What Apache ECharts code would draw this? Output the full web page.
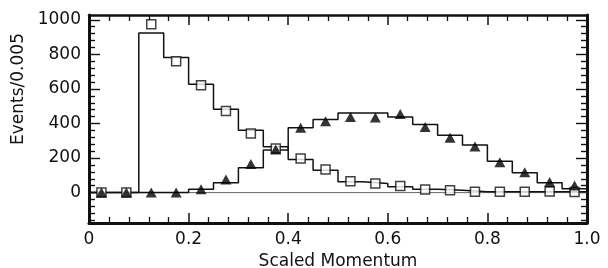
<!DOCTYPE html>
<html>
<head>
<meta charset="utf-8">
<script src="https://cdn.jsdelivr.net/npm/echarts@6/dist/echarts.min.js"></script>
<style>
  html, body { margin: 0; padding: 0; background: #fff; }
  #chart { width: 608px; height: 268px; }
</style>
</head>
<body>
<div id="chart"></div>
<script>
// bins of scaled momentum, width 0.05
const binWidth = 0.05
const binLow = [0.00, 0.05, 0.10, 0.15, 0.20, 0.25, 0.30, 0.35, 0.40, 0.45,
                0.50, 0.55, 0.60, 0.65, 0.70, 0.75, 0.80, 0.85, 0.90, 0.95]

// open squares (points + histogram)
const squarePoints = [0, 0, 974, 760, 621, 473, 342, 255, 197, 134,
                      66, 53, 38, 18, 14, 5, 5, 5, 6, 3]
const squareHist = [0, 0, 924, 782, 627, 483, 361, 265, 192, 130,
                    63, 53, 34, 20, 14, 5, 5, 5, 5, 5]

// filled triangles (points + histogram)
const trianglePoints = [0, 0, 0, 0, 20, 76, 165, 250, 375, 413,
                        438, 434, 455, 379, 317, 267, 176, 118, 61, 41]
const triangleHist = [0, 0, 0, 0, 20, 57, 144, 246, 375, 423,
                      461, 461, 438, 394, 332, 275, 182, 115, 57, 22]

// axis ticks
const yLabels = [0, 200, 400, 600, 800, 1000]
const yMinor = []
for (let v = -160; v <= 1000; v += 40) {
  if (v % 200 !== 0) yMinor.push(v)
}

const ink = '#111'
const font = 'DejaVu Sans'

function stepData (vals) {
  const d = binLow.map((x, i) => [x, vals[i]])
  d.push([binLow[binLow.length - 1] + binWidth, vals[vals.length - 1]])
  return d
}
function pointData (vals) {
  return binLow.map((x, i) => [x + binWidth / 2, vals[i]])
}

const xBase = {
  type: 'value',
  min: 0,
  max: 1,
  interval: 0.2,
  splitLine: { show: false },
  axisLine: { onZero: false, lineStyle: { color: ink, width: 3 } },
  axisTick: { inside: true, length: 10, lineStyle: { color: ink, width: 1.5 } },
  minorTick: { show: true, splitNumber: 5, length: 6, lineStyle: { color: ink, width: 1.3 } }
}

function yAxisDef (pos, major) {
  return {
    type: 'value',
    position: pos,
    min: -176,
    max: 1028,
    splitLine: { show: false },
    axisLine: { show: major, onZero: false, lineStyle: { color: ink, width: 3 } },
    axisTick: {
      show: true,
      inside: true,
      length: major ? 11 : 6,
      customValues: major ? yLabels : yMinor,
      lineStyle: { color: ink, width: 1.4 }
    },
    axisLabel: {
      show: pos === 'left' && major,
      customValues: yLabels,
      margin: 8,
      padding: [8, 0, 0, 0],
      color: ink,
      fontFamily: font,
      fontSize: 17,
      formatter: v => String(v)
    }
  }
}

const chart = echarts.init(document.getElementById('chart'))
chart.setOption({
  animation: false,
  backgroundColor: '#fff',
  grid: { left: 89, right: 21, top: 15, bottom: 45, containLabel: false, outerBoundsMode: 'none' },
  xAxis: [
    Object.assign({}, xBase, {
      position: 'bottom',
      name: 'Scaled Momentum',
      nameLocation: 'middle',
      nameGap: 25,
      nameTextStyle: { color: ink, fontFamily: font, fontSize: 17 },
      axisLabel: {
        margin: 8,
        color: ink,
        fontFamily: font,
        fontSize: 17,
        formatter: v => (v === 0 ? '0' : v.toFixed(1))
      }
    }),
    Object.assign({}, xBase, {
      position: 'top',
      axisLine: { onZero: false, lineStyle: { color: ink, width: 2.5 } },
      axisLabel: { show: false }
    })
  ],
  yAxis: [
    yAxisDef('left', true),
    yAxisDef('left', false),
    yAxisDef('right', true),
    yAxisDef('right', false)
  ],
  graphic: [{
    type: 'text',
    x: 19,
    y: 89,
    rotation: Math.PI / 2,
    style: {
      text: 'Events/0.005',
      fill: ink,
      font: '17px "DejaVu Sans"',
      align: 'center',
      verticalAlign: 'middle'
    }
  }],
  series: [
    {
      type: 'line',
      silent: true,
      symbol: 'none',
      data: [[0, 0], [1, 0]],
      lineStyle: { color: '#666', width: 1 }
    },
    {
      type: 'line',
      step: 'end',
      symbol: 'none',
      data: stepData(squareHist),
      lineStyle: { color: ink, width: 1.5 }
    },
    {
      type: 'line',
      step: 'end',
      symbol: 'none',
      data: stepData(triangleHist),
      lineStyle: { color: ink, width: 1.5 }
    },
    {
      type: 'scatter',
      symbol: 'rect',
      symbolSize: 9,
      data: pointData(squarePoints),
      itemStyle: { color: '#fff', borderColor: ink, borderWidth: 1.5 },
      z: 3
    },
    {
      type: 'scatter',
      symbol: 'triangle',
      symbolSize: [11, 10],
      data: pointData(trianglePoints),
      itemStyle: { color: '#000' },
      z: 4
    }
  ]
})
</script>
</body>
</html>
